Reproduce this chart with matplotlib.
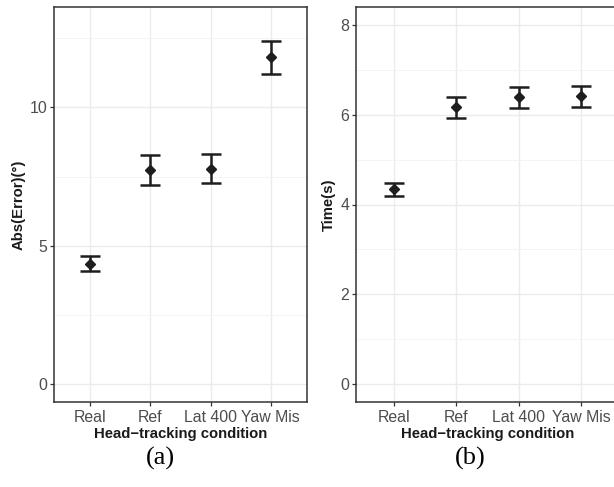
import matplotlib
matplotlib.use("Agg")
import matplotlib.pyplot as plt
import numpy as np
from matplotlib.ticker import MultipleLocator

conditions = ["Real", "Ref", "Lat 400", "Yaw Mis"]

# panel (a): absolute error in degrees
err_mean = [4.35, 7.72, 7.76, 11.82]
err_low = [4.08, 7.18, 7.25, 11.22]
err_high = [4.62, 8.27, 8.30, 12.41]

# panel (b): response time in seconds
time_mean = [4.34, 6.17, 6.40, 6.41]
time_low = [4.19, 5.93, 6.16, 6.18]
time_high = [4.49, 6.39, 6.61, 6.64]

W, H = 614, 487
plt.rcParams["font.family"] = ["Liberation Sans", "DejaVu Sans"]

fig = plt.figure(figsize=(W / 100, H / 100), dpi=100)


def px_axes(left, top, right, bottom):
    return fig.add_axes([left / W, 1 - bottom / H, (right - left) / W, (bottom - top) / H])


def draw_panel(ax, mean, low, high, ylim, major, minor, ylabel):
    x = np.arange(1, len(conditions) + 1)
    mean = np.asarray(mean)
    yerr = [mean - np.asarray(low), np.asarray(high) - mean]
    ax.errorbar(x, mean, yerr=yerr, fmt="D", color="#1e1e1e", ms=5.5,
                elinewidth=1.8, capsize=7.5, capthick=1.8, zorder=3)
    ax.set_xlim(0.4, 4.6)
    ax.set_ylim(*ylim)
    ax.set_xticks(x)
    ax.set_xticklabels(conditions)
    ax.yaxis.set_major_locator(MultipleLocator(major))
    ax.yaxis.set_minor_locator(MultipleLocator(minor))
    ax.grid(which="major", color="#ebebeb", lw=1.0)
    ax.grid(which="minor", axis="y", color="#f3f3f3", lw=0.6)
    ax.set_axisbelow(True)
    for s in ax.spines.values():
        s.set_color("#333333")
        s.set_linewidth(1.1)
    ax.tick_params(which="major", length=3, width=0.9, color="#333333",
                   labelcolor="#4d4d4d", labelsize=11.4, pad=2)
    ax.tick_params(axis="x", which="major", pad=3)
    ax.tick_params(which="minor", length=0)
    ax.set_xlabel("Head\u2212tracking condition", fontsize=10.7, fontweight="bold",
                  color="#1a1a1a", labelpad=1.5)
    ax.set_ylabel(ylabel, fontsize=10.7, fontweight="bold", color="#1a1a1a", labelpad=3)


ax1 = px_axes(54, 7, 307, 402)
draw_panel(ax1, err_mean, err_low, err_high, (-0.65, 13.63), 5, 2.5,
           "Abs(Error)(\u00b0)")

ax2 = px_axes(356.3, 7, 618.7, 402)
draw_panel(ax2, time_mean, time_low, time_high, (-0.4, 8.4), 2, 1, "Time(s)")

fig.text(160 / W, 1 - 458 / H, "(a)", family="Liberation Serif", fontsize=19,
         ha="center", va="center")
fig.text(470 / W, 1 - 458 / H, "(b)", family="Liberation Serif", fontsize=19,
         ha="center", va="center")

fig.savefig("out.png", dpi=100)
